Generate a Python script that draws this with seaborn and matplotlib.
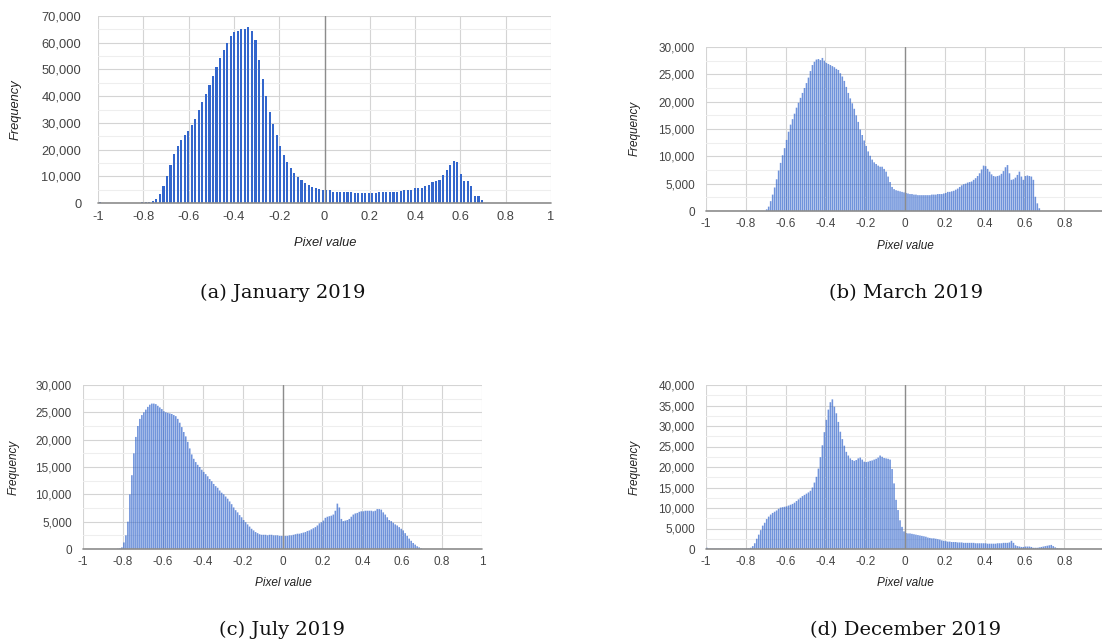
import pandas as pd
import matplotlib
matplotlib.use("Agg")
import matplotlib.pyplot as plt
import seaborn as sns
from matplotlib.ticker import FuncFormatter, MultipleLocator

W, H = 1102, 643

# January 2019: 128 buckets over [-1, 1]
jan_start, jan_width = -1.0, 2 / 128
jan_counts = [
    500, 0, 0, 0, 0, 0, 0, 0, 0, 0,
    50, 100, 200, 350, 500, 700, 1500, 3400, 6500, 10200,
    14300, 18200, 21400, 23500, 25300, 27100, 29100, 31600, 34900, 37700,
    40700, 44000, 47600, 50900, 54200, 57200, 59900, 62600, 64100, 64400,
    65000, 65300, 65800, 64300, 61000, 53400, 46300, 39900, 34200, 29600,
    25400, 21400, 18100, 15300, 13100, 11200, 9800, 8600, 7600, 6700,
    6100, 5700, 5400, 5000, 5000, 4900, 4300, 4200, 4200, 4000,
    4000, 4000, 3900, 3900, 3700, 3700, 3700, 3800, 3900, 4100,
    4200, 4100, 4100, 4100, 4200, 4500, 4700, 4700, 4800, 5500,
    5500, 5700, 6200, 6800, 7700, 8100, 8700, 10300, 12300, 14400,
    15800, 15200, 11000, 8200, 8200, 6500, 2700, 2700, 1200, 0,
    0, 0, 0, 0, 0, 0, 0, 0, 0, 0,
    0, 0, 0, 0, 0, 0, 0, 0,
]

# March 2019: 0.01 buckets starting at -0.70
mar_start, mar_width = -0.70, 0.01
mar_counts = [
    300, 800, 1800, 3000, 4300, 5800, 7400, 8800, 10200, 11500,
    13000, 14500, 15800, 16800, 17800, 18900, 19800, 20700, 21600, 22500,
    23400, 24400, 25600, 26700, 27300, 27700, 27800, 27600, 28000, 27500,
    27100, 26900, 26700, 26500, 26300, 26000, 25800, 25200, 24600, 23800,
    22700, 21600, 20600, 19700, 18700, 17500, 16300, 14900, 13900, 12900,
    11900, 10900, 10100, 9400, 8900, 8600, 8300, 8100, 8100, 7700,
    7200, 6300, 5300, 4400, 4000, 3800, 3700, 3600, 3500, 3400,
    3300, 3200, 3100, 3100, 3000, 3000, 2900, 2900, 2900, 2900,
    2900, 2900, 2900, 3000, 3000, 3000, 3100, 3100, 3100, 3200,
    3300, 3500, 3500, 3600, 3700, 3900, 4100, 4400, 4700, 4900,
    5000, 5200, 5300, 5400, 5700, 6000, 6400, 6900, 7600, 8300,
    8200, 7700, 7200, 6700, 6400, 6300, 6400, 6500, 6800, 7300,
    8000, 8400, 6900, 5700, 5800, 6100, 6600, 7200, 6300, 5700,
    6400, 6500, 6400, 6300, 5700, 2600, 1400, 500,
]

# July 2019: 0.01 buckets starting at -0.83
jul_start, jul_width = -0.83, 0.01
jul_counts = [
    50, 100, 300, 1200, 2500, 5000, 10000, 13500, 17500, 20500,
    22500, 23800, 24500, 25000, 25500, 26000, 26400, 26600, 26600, 26500,
    26200, 25900, 25600, 25200, 25000, 24900, 24800, 24700, 24500, 24300,
    23800, 23100, 22300, 21400, 20600, 19600, 18400, 17300, 16500, 15900,
    15400, 15000, 14500, 14100, 13700, 13300, 12800, 12400, 11900, 11500,
    11200, 10700, 10300, 10000, 9600, 9200, 8700, 8200, 7600, 7100,
    6700, 6200, 5800, 5300, 4900, 4500, 4100, 3700, 3400, 3100,
    2900, 2700, 2600, 2600, 2600, 2500, 2600, 2600, 2500, 2500,
    2500, 2400, 2400, 2400, 2400, 2400, 2500, 2500, 2600, 2700,
    2800, 2800, 2900, 3000, 3100, 3300, 3400, 3600, 3800, 4000,
    4300, 4700, 4900, 5200, 5700, 5900, 6000, 6100, 6300, 7000,
    8300, 7600, 5500, 5100, 5200, 5300, 5500, 5900, 6300, 6500,
    6600, 6800, 6900, 6900, 7000, 7000, 7000, 7000, 6900, 7000,
    7300, 7300, 7200, 6700, 6300, 5800, 5300, 5100, 4800, 4500,
    4300, 4000, 3700, 3400, 2900, 2400, 1900, 1500, 1100, 800,
    500, 300, 100,
]

# December 2019: 0.01 buckets starting at -1.00
dec_start, dec_width = -1.00, 0.01
dec_counts = [
    300, 80, 80, 80, 80, 80, 80, 80, 80, 80,
    80, 80, 80, 80, 80, 80, 80, 80, 80, 80,
    100, 150, 300, 700, 1400, 2500, 3500, 4600, 5700, 6400,
    7300, 7900, 8400, 8800, 9100, 9400, 9800, 10100, 10200, 10300,
    10400, 10600, 10800, 11000, 11300, 11700, 12100, 12500, 12900, 13200,
    13500, 13800, 14200, 15000, 16200, 17600, 19600, 22400, 25300, 28500,
    31500, 34000, 35800, 36500, 34700, 33100, 31000, 28600, 26800, 25200,
    23700, 22800, 22100, 21700, 21500, 21700, 22100, 22300, 21800, 21300,
    21200, 21300, 21500, 21600, 21800, 22000, 22300, 22800, 22500, 22200,
    22100, 22000, 21800, 19500, 16000, 12000, 9500, 7000, 5400, 4300,
    3900, 3800, 3800, 3700, 3600, 3500, 3400, 3300, 3200, 3100,
    3000, 2800, 2700, 2600, 2600, 2500, 2400, 2300, 2100, 2000,
    1900, 1800, 1800, 1700, 1700, 1700, 1600, 1600, 1600, 1500,
    1500, 1500, 1500, 1500, 1500, 1400, 1400, 1400, 1400, 1400,
    1400, 1300, 1300, 1300, 1300, 1300, 1400, 1400, 1400, 1500,
    1500, 1500, 1600, 2000, 1500, 900, 700, 600, 500, 500,
    600, 600, 600, 500, 300, 300, 300, 400, 500, 600,
    700, 800, 900, 1000, 700, 400, 200, 100, 50,
]

x_ticks = [-1, -0.8, -0.6, -0.4, -0.2, 0, 0.2, 0.4, 0.6, 0.8, 1]
captions = ["(a) January 2019", "(b) March 2019", "(c) July 2019", "(d) December 2019"]

sns.set_style("white")
plt.rcParams["font.family"] = ["Liberation Sans", "DejaVu Sans"]

# pixel boxes (left, top, right, bottom) and text placement
panels = [
    dict(data=(jan_start, jan_width, jan_counts), box=(98, 16, 551, 203), ymax=70000, ystep=10000,
         fs=9.3, one=True, ypad=12, ylab=(16, 110), xlab=(325, 243), cap=(283, 293),
         shrink=0.6, alpha=1.0, snap=True),
    dict(data=(mar_start, mar_width, mar_counts), box=(706, 47, 1104, 211), ymax=30000, ystep=5000,
         fs=8.5, one=False, ypad=8, ylab=(635, 128), xlab=(905, 246), cap=(906, 293),
         shrink=0.8, alpha=0.7, snap=False),
    dict(data=(jul_start, jul_width, jul_counts), box=(83, 385, 482, 549), ymax=30000, ystep=5000,
         fs=8.5, one=True, ypad=8, ylab=(14, 467), xlab=(283, 583), cap=(282, 630),
         shrink=0.8, alpha=0.7, snap=False),
    dict(data=(dec_start, dec_width, dec_counts), box=(706, 385, 1104, 549), ymax=40000, ystep=5000,
         fs=8.5, one=False, ypad=8, ylab=(635, 467), xlab=(905, 583), cap=(906, 630),
         shrink=0.8, alpha=0.7, snap=False),
]

fig = plt.figure(figsize=(W / 100, H / 100), dpi=100)

for p, cap in zip(panels, captions):
    l, t, r, b = p["box"]
    ax = fig.add_axes([l / W, 1 - b / H, (r - l) / W, (b - t) / H])

    start, width, counts = p["data"]
    n = len(counts)
    edges = [start + width * i for i in range(n + 1)]
    df = pd.DataFrame({
        "value": [(edges[i] + edges[i + 1]) / 2 for i in range(n)],
        "count": counts,
    })
    sns.histplot(data=df, x="value", weights="count", bins=edges, shrink=p["shrink"],
                 color="#3366cc", alpha=p["alpha"], linewidth=0, snap=p["snap"], ax=ax)

    ax.set_xlim(-1, 1)
    ax.set_ylim(0, p["ymax"])
    ax.set_xticks(x_ticks)
    labels = [f"{v:g}" for v in x_ticks]
    if not p["one"]:
        labels[-1] = ""
    ax.set_xticklabels(labels)
    ax.yaxis.set_major_locator(MultipleLocator(p["ystep"]))
    ax.yaxis.set_minor_locator(MultipleLocator(p["ystep"] / 2))
    ax.yaxis.set_major_formatter(FuncFormatter(lambda v, pos: f"{int(v):,}"))

    ax.grid(True, which="major", color="#d4d4d4", linewidth=0.8)
    ax.grid(True, which="minor", axis="y", color="#eeeeee", linewidth=0.8)
    ax.set_axisbelow(True)
    ax.axvline(0, color="#8c8c8c", linewidth=1, zorder=3)
    ax.axhline(0, color="#8c8c8c", linewidth=1.2, zorder=3, clip_on=False)
    sns.despine(ax=ax, left=True, bottom=True)
    ax.tick_params(which="both", length=0, labelsize=p["fs"], colors="#444444")
    ax.tick_params(axis="x", pad=p["fs"] * 0.6)
    ax.tick_params(axis="y", pad=p["ypad"])

    ax.set_xlabel("Pixel value", fontstyle="italic", fontsize=p["fs"], color="#222222", va="center")
    ax.set_ylabel("Frequency", fontstyle="italic", fontsize=p["fs"], color="#222222", va="center")
    ax.xaxis.set_label_coords((p["xlab"][0] - l) / (r - l), (b - p["xlab"][1]) / (b - t))
    ax.yaxis.set_label_coords((p["ylab"][0] - l) / (r - l), (b - p["ylab"][1]) / (b - t))

    fig.text(p["cap"][0] / W, 1 - p["cap"][1] / H, cap, ha="center", va="center",
             fontsize=14, family="DejaVu Serif", color="#111111")

fig.savefig("out.png", dpi=100)
